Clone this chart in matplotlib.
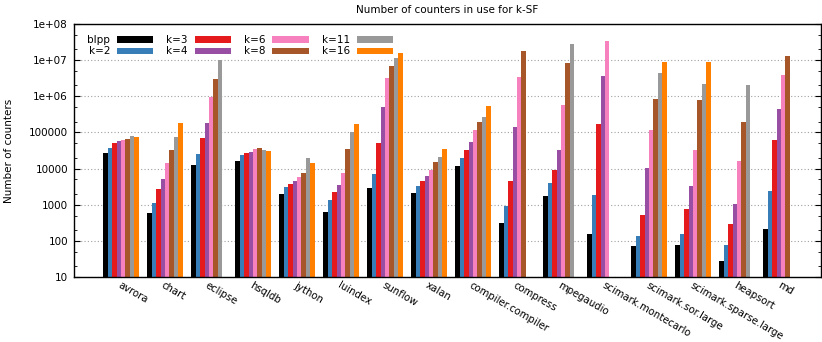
import numpy as np
import matplotlib
matplotlib.use("Agg")
import matplotlib.pyplot as plt
from matplotlib.ticker import FixedLocator, LogLocator, NullFormatter

nan = np.nan

# benchmarks (x categories)
benchmarks = ["avrora", "chart", "eclipse", "hsqldb", "jython", "luindex",
              "sunflow", "xalan", "compiler.compiler", "compress", "mpegaudio",
              "scimark.montecarlo", "scimark.sor.large", "scimark.sparse.large",
              "heapsort", "md"]

series_names = ["blpp", "k=2", "k=3", "k=4", "k=6", "k=8", "k=11", "k=16"]

# counters per series, nan = no bar
blpp = [27800, 574, 12600, 16000, 2020, 612, 2900, 2070, 12100, 303, 1780, 150, 71, 77, 28, 216]
k2 = [37500, 1110, 25500, 23400, 3100, 1320, 7110, 3230, 19400, 900, 4000, 1900, 132, 150, 79, 2450]
k3 = [51600, 2670, 69600, 27800, 3750, 2200, 49400, 4540, 32200, 4540, 9180, 170000, 516, 759, 297, 61100]
k4 = [56200, 5160, 178000, 29600, 4540, 3520, 494000, 6390, 53800, 138000, 33000, 3660000,
      10200, 3230, 1070, 444000]
k6 = [61200, 14700, 958000, 35900, 5740, 7740, 3300000, 9180, 114000, 3440000, 574000, 32900000,
      116000, 32300, 16000, 3900000]
k8 = [65300, 33000, 2970000, 37500, 7580, 34300, 6810000, 15600, 197000, 17400000, 8600000, nan,
      861000, 791000, 193000, 13400000]
k11 = [77400, 72600, 10000000, 33000, 19400, 104000, 11600000, 21100, 271000, nan, 28400000, nan,
       4450000, 2200000, 2060000, nan]
k16 = [75800, 181600, nan, 31000, 14100, 170000, 15600000, 35900, 527000, nan, nan, nan,
       9000000, 9000000, nan, nan]

ytick_values = [10, 100, 1000, 10000, 100000, 1e6, 1e7, 1e8]
ytick_labels = ["10", "100", "1000", "10000", "100000", "1e+06", "1e+07", "1e+08"]

_COLORS = ["#000000", "#377eb8", "#e41a1c", "#984ea3",
           "#f781bf", "#a65628", "#999999", "#ff7f00"]

plt.rcParams["font.family"] = ["DejaVu Sans"]
FS = 7.5

fig = plt.figure(figsize=(8.22, 3.42), dpi=100)
ax = fig.add_axes([74 / 822, 1 - 277 / 342, 747 / 822, 253 / 342])

data = [blpp, k2, k3, k4, k6, k8, k11, k16]
x = np.arange(len(benchmarks))
w = 0.1
for j, (name, vals) in enumerate(zip(series_names, data)):
    ax.bar(x + (j - 3.5) * w, vals, w, color=_COLORS[j], label=name, zorder=2)

ax.set_yscale("log")
ax.set_ylim(10, 1e8)
ax.set_xlim(-1.066, 15.91)

ax.yaxis.set_major_locator(FixedLocator(ytick_values))
ax.set_yticklabels(ytick_labels, fontsize=FS)
ax.yaxis.set_minor_locator(LogLocator(base=10, subs=(2.0, 5.0)))
ax.yaxis.set_minor_formatter(NullFormatter())
ax.tick_params(axis="y", which="major", direction="in", length=4.3, width=0.8,
               left=True, right=True, pad=4.3)
ax.tick_params(axis="y", which="minor", direction="in", length=2.2, width=0.6,
               left=True, right=True)

ax.set_xticks(x)
ax.set_xticklabels(benchmarks, rotation=-30, ha="left", va="top",
                   rotation_mode="anchor", fontsize=7.3)
ax.tick_params(axis="x", length=0, pad=2.5)

ax.grid(axis="y", which="major", color="#a0a0a0", linestyle=(0, (1, 2)), lw=0.8)
ax.set_axisbelow(True)
for sp in ax.spines.values():
    sp.set_linewidth(1.0)

ax.set_title("Number of counters in use for k-SF", fontsize=FS, pad=8)
ax.set_ylabel("Number of counters", fontsize=FS)
ax.yaxis.set_label_coords(-0.08, 0.5)

ax.legend(ncol=4, loc="upper left", bbox_to_anchor=(0.008, 0.985),
          fontsize=FS, frameon=False, markerfirst=False,
          handlelength=3.5, handleheight=0.55, handletextpad=0.65,
          columnspacing=1.25, labelspacing=0.12, borderpad=0.2)

fig.savefig("out.png", dpi=100)
plt.close(fig)
